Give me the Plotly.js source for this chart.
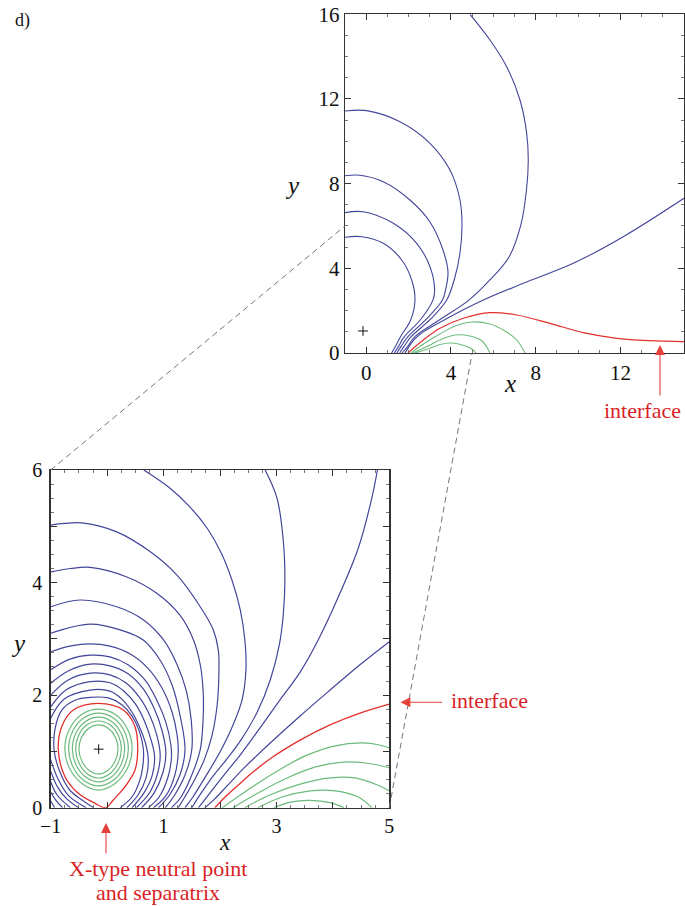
<!DOCTYPE html>
<html>
<head>
<meta charset="utf-8">
<script src="https://cdn.plot.ly/plotly-3.0.1.min.js"></script>
<style>
  html, body { margin: 0; padding: 0; background: #ffffff; }
  #chart { width: 685px; height: 906px; }
</style>
</head>
<body>
<div id="chart"></div>
<script>
// Field lines of the configuration, each line given as [xValues, yValues].

// ---------- lower panel: close-up window x in [-1, 5], y in [0, 6] ----------
const zoomRangeX = [-1, 5];
const zoomRangeY = [0, 6];
const zoomTicksX = [-1, 0, 1, 2, 3, 4, 5];
const zoomLabelsX = ['\u22121', '', '1', '', '3', '', '5'];
const zoomTicksY = [0, 1, 2, 3, 4, 5, 6];
const zoomLabelsY = ['0', '', '2', '', '4', '', '6'];

// open field lines arching over the O-point and landing right of the X-point
const zoomBlueArcs = [
  [[-1.00, -0.75, -0.45, 0.17, 0.76, 1.23, 1.65, 1.88, 1.97, 1.98, 1.95, 1.86, 1.72, 1.52, 1.26],
   [5.02, 5.05, 5.06, 4.90, 4.55, 4.14, 3.57, 3.16, 2.80, 2.36, 1.83, 1.29, 0.85, 0.44, 0]],
  [[-1.00, -0.65, -0.30, 0.35, 0.88, 1.29, 1.53, 1.65, 1.70, 1.70, 1.65, 1.50, 1.31, 1.14],
   [4.19, 4.25, 4.27, 4.10, 3.81, 3.42, 2.98, 2.54, 2.09, 1.56, 1.03, 0.58, 0.19, 0]],
  [[-1.00, -0.48, 0.17, 0.64, 1.00, 1.24, 1.40, 1.49, 1.50, 1.38, 1.20, 1.03],
   [3.57, 3.69, 3.57, 3.34, 2.98, 2.54, 2.09, 1.56, 1.03, 0.58, 0.23, 0]],
  [[-1.00, -0.30, 0.23, 0.64, 0.94, 1.15, 1.29, 1.38, 1.29, 1.11, 0.91],
   [3.10, 3.26, 3.16, 2.98, 2.62, 2.18, 1.65, 1.03, 0.58, 0.23, 0]],
  [[-1.00, -0.66, -0.30, 0.05, 0.41, 0.72, 0.97, 1.15, 1.24, 1.26, 1.20, 1.04, 0.82],
   [2.77, 2.87, 2.91, 2.87, 2.73, 2.48, 2.13, 1.70, 1.29, 0.99, 0.58, 0.21, 0]],
  [[-1.00, -0.66, -0.30, 0.05, 0.37, 0.67, 0.88, 1.04, 1.13, 1.14, 1.08, 0.92, 0.73],
   [2.45, 2.64, 2.71, 2.68, 2.54, 2.27, 1.91, 1.52, 1.11, 0.90, 0.55, 0.19, 0]],
  [[-1.00, -0.69, -0.30, 0.05, 0.37, 0.64, 0.83, 0.97, 1.04, 0.99, 0.83, 0.61],
   [2.21, 2.43, 2.55, 2.52, 2.38, 2.11, 1.77, 1.38, 0.99, 0.63, 0.26, 0]],
  [[-1.00, -0.69, -0.30, 0.05, 0.33, 0.58, 0.76, 0.88, 0.94, 0.90, 0.76, 0.52],
   [2.00, 2.27, 2.39, 2.36, 2.22, 1.95, 1.63, 1.29, 0.95, 0.63, 0.28, 0]],
  [[-1.00, -0.73, -0.30, 0.05, 0.30, 0.51, 0.67, 0.78, 0.84, 0.80, 0.65, 0.44],
   [1.79, 2.09, 2.24, 2.22, 2.07, 1.83, 1.52, 1.20, 0.92, 0.58, 0.26, 0]],
  [[-1.00, -0.76, -0.30, 0.05, 0.26, 0.44, 0.58, 0.69, 0.73, 0.69, 0.55, 0.35],
   [1.59, 1.93, 2.09, 2.07, 1.93, 1.70, 1.42, 1.11, 0.85, 0.53, 0.23, 0]],
  [[-0.24, -0.42, -0.66, -0.85, -0.94, -0.92, -0.80, -0.57, -0.30, 0.02, 0.26, 0.44, 0.57, 0.64, 0.64, 0.58, 0.44, 0.23],
   [0, 0.12, 0.31, 0.67, 1.03, 1.42, 1.74, 1.91, 1.96, 1.95, 1.83, 1.63, 1.36, 1.06, 0.81, 0.49, 0.19, 0]]
];

// short pieces in the corner left of the X-point
const zoomBlueCorner = [
  [[-1.00, -0.87, -0.68, -0.37], [0.85, 0.51, 0.21, 0]],
  [[-1.00, -0.88, -0.72, -0.51], [0.65, 0.37, 0.16, 0]],
  [[-1.00, -0.89, -0.65], [0.46, 0.23, 0]],
  [[-1.00, -0.90, -0.79], [0.28, 0.12, 0]],
  [[-1.00, -0.93], [0.12, 0]]
];

// lines entering through the top and right edges of the window
const zoomBlueOuter = [
  [[0.65, 1.11, 1.47, 1.77, 2.02, 2.21, 2.36, 2.44, 2.46, 2.39, 2.21, 2.00, 1.73, 1.52, 1.38],
   [6.00, 5.68, 5.34, 4.97, 4.53, 4.05, 3.51, 2.98, 2.45, 1.91, 1.42, 0.99, 0.53, 0.19, 0]],
  [[2.80, 3.01, 3.12, 3.15, 3.12, 3.05, 2.89, 2.66, 2.37, 2.11, 1.89, 1.68, 1.50],
   [6.00, 5.50, 4.76, 4.05, 3.42, 2.89, 2.27, 1.70, 1.20, 0.85, 0.58, 0.28, 0]],
  [[4.79, 4.69, 4.45, 4.09, 3.74, 3.42, 3.06, 2.71, 2.36, 2.07, 1.82, 1.62],
   [6.00, 5.50, 4.61, 3.73, 2.98, 2.41, 1.91, 1.42, 0.94, 0.58, 0.26, 0]],
  [[5.00, 4.48, 3.95, 3.42, 2.89, 2.44, 2.11, 1.89, 1.73],
   [2.95, 2.54, 2.09, 1.63, 1.15, 0.72, 0.37, 0.14, 0]]
];

// separatrix through the X-point and the interface line
const zoomSeparatrix = [
  [-0.025, 0.109, 0.317, 0.494, 0.542, 0.494, 0.287, -0.156, -0.600, -0.805, -0.865, -0.747, -0.511, -0.215, -0.025],
  [0, 0.137, 0.373, 0.670, 1.025, 1.439, 1.736, 1.855, 1.736, 1.439, 1.025, 0.551, 0.256, 0.078, 0]
];
const zoomInterface = [
  [1.91, 2.09, 2.32, 2.57, 2.89, 3.42, 3.95, 4.48, 5.00],
  [0, 0.19, 0.40, 0.62, 0.87, 1.20, 1.47, 1.68, 1.84]
];

// closed lines around the O-point
const zoomGreenLoops = [
  [[0.443, 0.363, 0.145, -0.153, -0.451, -0.669, -0.749, -0.653, -0.423, -0.153, 0.117, 0.347, 0.443],
   [1.034, 1.393, 1.655, 1.751, 1.655, 1.393, 1.034, 0.675, 0.413, 0.314, 0.413, 0.675, 1.034]],
  [[0.376, 0.305, 0.112, -0.153, -0.418, -0.611, -0.682, -0.598, -0.398, -0.153, 0.092, 0.292, 0.376],
   [1.034, 1.357, 1.593, 1.679, 1.593, 1.357, 1.034, 0.711, 0.475, 0.389, 0.475, 0.711, 1.034]],
  [[0.310, 0.248, 0.079, -0.153, -0.385, -0.554, -0.616, -0.543, -0.368, -0.153, 0.062, 0.237, 0.310],
   [1.034, 1.322, 1.532, 1.609, 1.532, 1.322, 1.034, 0.746, 0.536, 0.459, 0.536, 0.746, 1.034]],
  [[0.252, 0.198, 0.050, -0.153, -0.356, -0.504, -0.558, -0.493, -0.343, -0.153, 0.037, 0.187, 0.252],
   [1.034, 1.287, 1.472, 1.540, 1.472, 1.287, 1.034, 0.781, 0.596, 0.528, 0.596, 0.781, 1.034]],
  [[0.193, 0.147, 0.020, -0.153, -0.326, -0.453, -0.499, -0.443, -0.313, -0.153, 0.007, 0.137, 0.193],
   [1.034, 1.253, 1.413, 1.472, 1.413, 1.253, 1.034, 0.815, 0.655, 0.596, 0.655, 0.815, 1.034]]
];

// arcade under the interface
const zoomGreenArcade = [
  [[2.04, 2.44, 2.98, 3.51, 4.04, 4.52, 4.84, 5.00], [0, 0.28, 0.63, 0.92, 1.10, 1.15, 1.11, 1.06]],
  [[2.23, 2.62, 3.15, 3.68, 4.18, 4.62, 5.00], [0, 0.23, 0.51, 0.72, 0.81, 0.79, 0.71]],
  [[2.44, 2.89, 3.42, 3.95, 4.39, 4.80, 5.00], [0, 0.23, 0.42, 0.53, 0.53, 0.40, 0.30]],
  [[2.67, 3.10, 3.60, 4.04, 4.45, 4.69], [0, 0.19, 0.30, 0.30, 0.19, 0]],
  [[2.95, 3.25, 3.60, 3.95, 4.20], [0, 0.10, 0.13, 0.09, 0]]
];

// line-current position (O-point)
const sourcePoint = [[-0.15], [1.04]];

// ---------- upper panel: full view x in [-1, 15], y in [0, 16] ----------
const fullRangeX = [-1, 15];
const fullRangeY = [0, 16];
const fullTicksX = [0, 4, 8, 12];
const fullTicksY = [0, 4, 8, 12, 16];

const fullBlueLines = [
  [[-1.000, -0.212, 0.807, 1.676, 2.148, 2.303, 2.10, 1.62, 1.37, 1.20],
   [5.465, 5.494, 5.182, 4.393, 3.448, 2.504, 1.56, 0.77, 0.30, 0]],
  [[-1.000, -0.150, 1.279, 2.384, 3.011, 3.230, 3.15, 2.55, 1.80, 1.52, 1.33],
   [6.630, 6.670, 6.127, 5.182, 4.077, 3.000, 2.50, 1.56, 0.77, 0.30, 0]],
  [[-1.000, -0.300, 0.807, 2.067, 3.011, 3.625, 3.861, 3.750, 3.60, 2.80, 1.97, 1.64, 1.45],
   [8.375, 8.400, 8.092, 7.227, 6.188, 4.865, 3.826, 3.000, 2.50, 1.56, 0.77, 0.30, 0]],
  [[-1.000, 0.024, 1.596, 3.011, 3.955, 4.427, 4.521, 4.427, 4.191, 3.80, 3.00, 2.12, 1.78, 1.58],
   [11.431, 11.450, 10.926, 9.906, 8.644, 7.227, 6.046, 4.724, 3.590, 2.50, 1.56, 0.77, 0.30, 0]],
  [[4.899, 5.843, 6.631, 7.259, 7.575, 7.650, 7.565, 7.30, 6.75, 5.84, 4.85, 3.45, 2.30, 1.95, 1.70],
   [16.000, 14.785, 13.524, 11.951, 10.378, 9.117, 7.700, 6.05, 4.55, 3.45, 2.50, 1.56, 0.77, 0.30, 0]],
  [[14.998, 12.133, 9.774, 7.414, 5.53, 3.96, 2.70, 2.25, 2.02, 1.84],
   [7.308, 5.494, 4.237, 3.292, 2.50, 1.71, 1.00, 0.62, 0.30, 0]]
];
const fullInterface = [
  [1.973, 2.695, 3.483, 4.583, 5.843, 7.103, 8.674, 10.246, 11.822, 13.393, 15.012],
  [0, 0.614, 1.167, 1.639, 1.904, 1.795, 1.403, 0.959, 0.694, 0.581, 0.534]
];
const fullGreenArcade = [
  [[2.115, 2.775, 3.483, 4.191, 4.979, 5.843, 6.551, 7.103, 7.495], [0, 0.472, 0.897, 1.275, 1.464, 1.370, 1.039, 0.614, 0]],
  [[2.209, 2.917, 3.578, 4.191, 4.899, 5.465, 5.843], [0, 0.331, 0.661, 0.850, 0.803, 0.567, 0]],
  [[2.303, 2.917, 3.483, 4.050, 4.616, 4.993, 5.182], [0, 0.189, 0.402, 0.472, 0.354, 0.189, 0]]
];

// ---------- styling ----------
const SERIF = '"Liberation Serif", "Times New Roman", serif';
const BLUE = '#43469a';
const GREEN = '#6dbb7c';
const RED = '#e2302c';
const LABEL_RED = '#d91f26';

function lineTraces(list, color, width, xa, ya) {
  return list.map(([xs, ys]) => ({
    type: 'scatter', mode: 'lines', x: xs, y: ys,
    xaxis: xa, yaxis: ya,
    line: { color: color, width: width, shape: 'spline', smoothing: 1 },
    hoverinfo: 'skip', showlegend: false
  }));
}
function markerTrace(pt, xa, ya) {
  return {
    type: 'scatter', mode: 'markers', x: pt[0], y: pt[1], xaxis: xa, yaxis: ya,
    marker: { symbol: 'cross-thin', size: 7, line: { color: '#111', width: 1 } },
    hoverinfo: 'skip', showlegend: false
  };
}

const traces = [].concat(
  lineTraces(zoomBlueArcs, BLUE, 1.2, 'x', 'y'),
  lineTraces(zoomBlueCorner, BLUE, 1.2, 'x', 'y'),
  lineTraces(zoomBlueOuter, BLUE, 1.2, 'x', 'y'),
  lineTraces(zoomGreenLoops, GREEN, 1.2, 'x', 'y'),
  lineTraces(zoomGreenArcade, GREEN, 1.2, 'x', 'y'),
  lineTraces([zoomSeparatrix, zoomInterface], RED, 1.3, 'x', 'y'),
  [markerTrace(sourcePoint, 'x', 'y')],
  lineTraces(fullBlueLines, BLUE, 1.1, 'x2', 'y2'),
  lineTraces(fullGreenArcade, GREEN, 1.1, 'x2', 'y2'),
  lineTraces([fullInterface], RED, 1.2, 'x2', 'y2'),
  [markerTrace(sourcePoint, 'x2', 'y2')]
);

function axisStyle(extra) {
  return Object.assign({
    showline: true, linecolor: '#333', linewidth: 1.4, mirror: 'ticks',
    ticks: 'inside', ticklen: 6, tickwidth: 1, tickcolor: '#333',
    showgrid: false, zeroline: false, fixedrange: true,
    tickfont: { family: SERIF, size: 20, color: '#111' },
    minor: { ticks: 'inside', ticklen: 3, tickwidth: 0.8, tickcolor: '#555', showgrid: false }
  }, extra);
}

const W = 685, H = 906;
const xaxis = axisStyle({ domain: [50.7 / W, 389.3 / W], range: zoomRangeX, tickvals: zoomTicksX, ticktext: zoomLabelsX, anchor: 'y' });
const yaxis = axisStyle({ domain: [(H - 807.7) / H, (H - 470) / H], range: zoomRangeY, tickvals: zoomTicksY, ticktext: zoomLabelsY, anchor: 'x', ticklabelstandoff: 3 });
const xaxis2 = axisStyle({ domain: [345 / W, 684 / W], range: fullRangeX, tickvals: fullTicksX, anchor: 'y2' });
const yaxis2 = axisStyle({ domain: [(H - 353) / H, (H - 14.3) / H], range: fullRangeY, tickvals: fullTicksY, anchor: 'x2' });
xaxis2.tickfont.size = 21; yaxis2.tickfont.size = 21;
xaxis.minor.dtick = 0.25; yaxis.minor.dtick = 0.25;
xaxis2.minor.dtick = 1; yaxis2.minor.dtick = 1;

// paper position of a data value on an axis
function toPaper(ax, v) {
  return ax.domain[0] + (v - ax.range[0]) / (ax.range[1] - ax.range[0]) * (ax.domain[1] - ax.domain[0]);
}
// dashed guides from the close-up corners to the same points in the full view
const connector = (xv, yv) => ({
  type: 'line', xref: 'paper', yref: 'paper',
  x0: toPaper(xaxis, xv), y0: toPaper(yaxis, yv),
  x1: toPaper(xaxis2, xv), y1: toPaper(yaxis2, yv),
  line: { color: '#777', width: 1, dash: '6px,4px' }
});

const txt = (text, x, y, size, color, extra) => Object.assign({
  text: text, x: x, y: y, xref: 'paper', yref: 'paper', showarrow: false,
  xanchor: 'center', yanchor: 'middle',
  font: { family: SERIF, size: size, color: color }
}, extra || {});
const arrow = (x, y, axPx, ayPx) => ({
  text: '', x: x, y: y, xref: 'paper', yref: 'paper', showarrow: true,
  ax: axPx, ay: ayPx, arrowhead: 2, arrowsize: 1.8, arrowwidth: 1.1, arrowcolor: '#e5423c',
  standoff: 0, startstandoff: 0
});

const layout = {
  width: W, height: H,
  margin: { l: 0, r: 0, t: 0, b: 0 },
  paper_bgcolor: '#ffffff', plot_bgcolor: '#ffffff',
  showlegend: false,
  font: { family: SERIF, size: 20, color: '#111' },
  xaxis: xaxis, yaxis: yaxis, xaxis2: xaxis2, yaxis2: yaxis2,
  shapes: [connector(zoomRangeX[0], zoomRangeY[1]), connector(zoomRangeX[1], zoomRangeY[0])],
  annotations: [
    txt('d)', 22 / W, 1 - 20 / H, 18, '#111'),
    txt('<i>y</i>', 292 / W, 1 - 186 / H, 25, '#111'),
    txt('<i>x</i>', 510 / W, 1 - 384 / H, 25, '#111'),
    txt('<i>y</i>', 18 / W, 1 - 643 / H, 25, '#111'),
    txt('<i>x</i>', 225 / W, 1 - 842 / H, 23, '#111'),
    txt('interface', 642 / W, 1 - 410 / H, 22, LABEL_RED),
    arrow(660 / W, 1 - 345 / H, 0, 52),
    txt('interface', 489 / W, 1 - 700 / H, 22, LABEL_RED),
    arrow(400.5 / W, 1 - 702.3 / H, 43, 0),
    txt('X-type neutral point', 157.5 / W, 1 - 868 / H, 22, LABEL_RED),
    txt('and separatrix', 158 / W, 1 - 892 / H, 22, LABEL_RED),
    arrow(106 / W, 1 - 823 / H, 0, 32)
  ]
};

Plotly.newPlot('chart', traces, layout, { displayModeBar: false, staticPlot: true });
</script>
</body>
</html>
